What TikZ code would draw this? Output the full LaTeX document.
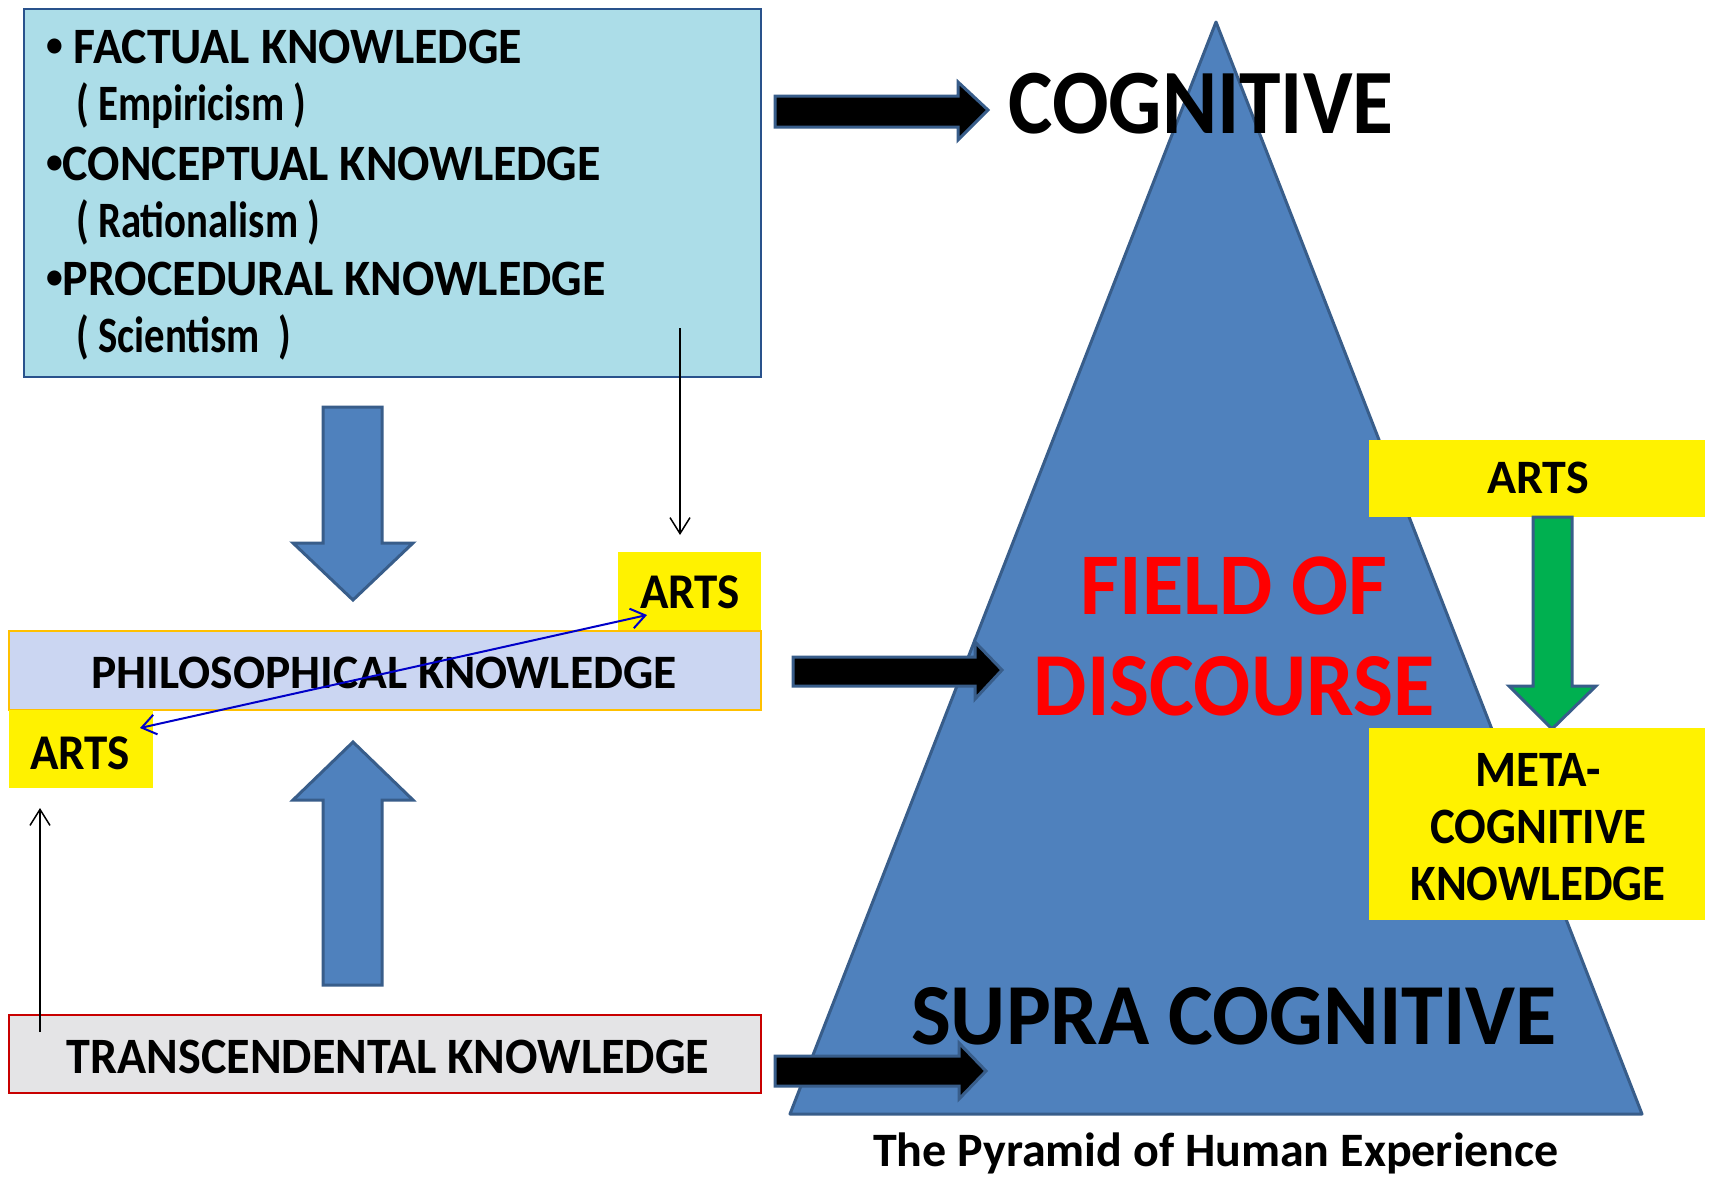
\documentclass[tikz,border=0pt]{standalone}
\usepackage{fontspec}
\usepackage{graphicx}
\setmainfont{Carlito}
\usetikzlibrary{arrows.meta}
\definecolor{blueF}{RGB}{79,129,189}
\definecolor{blueB}{RGB}{56,93,138}
\definecolor{cyanF}{RGB}{172,221,232}
\definecolor{cyanB}{RGB}{41,82,140}
\definecolor{philF}{RGB}{203,214,242}
\definecolor{philB}{RGB}{255,192,0}
\definecolor{transF}{RGB}{228,228,230}
\definecolor{transB}{RGB}{200,0,0}
\definecolor{greenF}{RGB}{0,176,80}
\definecolor{redT}{RGB}{255,0,0}
\definecolor{darrow}{RGB}{0,0,200}
\newcommand\sx[3]{\scalebox{#1}[1]{\fontsize{#2}{#2}\selectfont\bfseries #3}}
\newcommand\bul{\raisebox{0.12em}{\scalebox{0.7}{•}}}
\begin{document}
\begin{tikzpicture}[x=1pt,y=-1pt,
  rbox/.style={inner sep=0pt, outer sep=0pt, anchor=north west, line width=2pt},
  yel/.style={inner sep=0pt, outer sep=0pt, anchor=north west, fill=yellow, draw=none},
  bigarrow/.style={fill=blueF, draw=blueB, line width=3pt},
  grarrow/.style={fill=greenF, draw=blueB, line width=3pt},
  blkarrow/.style={fill=black, draw=blueB, line width=3pt},
  thinarrow/.style={draw=black, line width=1.5pt, -{Straight Barb[length=16pt,width=20pt]}},
  dblarrow/.style={draw=darrow, line width=2pt, {Straight Barb[length=14pt,width=20pt]}-{Straight Barb[length=14pt,width=20pt]}},
  txt/.style={inner sep=0pt, anchor=base},
  ltxt/.style={inner sep=0pt, anchor=base west}]

\useasboundingbox (0,0) rectangle (1712,1176);
\fill[white] (0,0) rectangle (1712,1176);

% ---------- left column boxes ----------
\node[rbox, draw=cyanB, fill=cyanF, minimum width=737pt, minimum height=368pt] (top) at (24,9) {};
\node[ltxt] (l1) at (46,63) {\sx{0.94}{51}{\bul{} FACTUAL KNOWLEDGE}};
\node[ltxt] (l2) at (76,120) {\sx{0.80}{51}{( Empiricism )}};
\node[ltxt] (l3) at (46,180) {\sx{0.94}{51}{\bul CONCEPTUAL KNOWLEDGE}};
\node[ltxt] (l4) at (76,237) {\sx{0.80}{51}{( Rationalism )}};
\node[ltxt] (l5) at (46,295) {\sx{0.94}{51}{\bul PROCEDURAL KNOWLEDGE}};
\node[ltxt] (l6) at (76,352) {\sx{0.80}{51}{( Scientism~~)}};

\node[yel, minimum width=143pt, minimum height=79pt] (artsR) at (618,552) {};
\node[txt] (artsRt) at (690,608) {\sx{0.94}{50}{ARTS}};

\node[rbox, draw=philB, fill=philF, minimum width=752pt, minimum height=79pt] (phil) at (9,631) {};
\node[txt] (philt) at (384,688) {\sx{0.99}{48}{PHILOSOPHICAL KNOWLEDGE}};

\node[yel, minimum width=144pt, minimum height=78pt] (artsL) at (9,710) {};
\node[txt] (artsLt) at (80,769) {\sx{0.94}{50}{ARTS}};

\node[rbox, draw=transB, fill=transF, minimum width=752pt, minimum height=78pt] (trans) at (9,1015) {};
\node[txt] (transt) at (388,1073) {\sx{0.943}{51}{TRANSCENDENTAL KNOWLEDGE}};

% big blue arrows
\draw[bigarrow] (323,407) -- (382,407) -- (382,543) -- (413,543) -- (353,600) -- (293,543) -- (323,543) -- cycle;
\draw[bigarrow] (353,742) -- (413,800) -- (382,800) -- (382,985) -- (323,985) -- (323,800) -- (293,800) -- cycle;

% thin arrows
\coordinate (a1s) at (680,328);
\coordinate (a1e) at (680,535);
\draw[thinarrow] (a1s) -- (a1e);
\coordinate (a2s) at (40,1032);
\coordinate (a2e) at (40,808);
\draw[thinarrow] (a2s) -- (a2e);
\coordinate (b1) at (140,728);
\coordinate (b2) at (647,615);
\draw[dblarrow] (b1) -- (b2);

% ---------- pyramid ----------
\draw[fill=blueF, draw=blueB, line width=3pt, line join=round] (1216,22) -- (1642,1114) -- (790,1114) -- cycle;

% black arrows
\draw[blkarrow] (775,96) -- (958,96) -- (958,82) -- (988,110) -- (958,140) -- (958,127) -- (775,127) -- cycle;
\draw[blkarrow] (793,657) -- (975,657) -- (975,642) -- (1002,670) -- (975,699) -- (975,686) -- (793,686) -- cycle;
\draw[blkarrow] (775,1056) -- (959,1056) -- (959,1043) -- (986,1071) -- (959,1099) -- (959,1086) -- (775,1086) -- cycle;

\node[txt] (cog) at (1201,133) {\sx{0.91}{92}{COGNITIVE}};
\node[txt, text=redT] (field) at (1234,614) {\sx{0.96}{88}{FIELD OF}};
\node[txt, text=redT] (disc) at (1234,715) {\sx{0.94}{90}{DISCOURSE}};
\node[txt] (supra) at (1234,1044) {\sx{0.97}{87}{SUPRA COGNITIVE}};

% right column
\node[yel, minimum width=336pt, minimum height=77pt] (arts3) at (1369,440) {};
\node[txt] (arts3t) at (1538,493) {\sx{1.0}{48}{ARTS}};
\draw[grarrow] (1533,517) -- (1572,517) -- (1572,686) -- (1596,686) -- (1552,729) -- (1509,686) -- (1533,686) -- cycle;
\node[yel, minimum width=336pt, minimum height=192pt] (meta) at (1369,728) {};
\node[txt] (metat) at (1538,786) {\scalebox{0.92}[1]{\fontsize{51}{57}\selectfont\bfseries
  \begin{tabular}[t]{@{}c@{}}META-\\COGNITIVE\\KNOWLEDGE\end{tabular}}};

\node[txt] (cap) at (1216,1166) {\sx{1.0}{48}{The Pyramid of Human Experience}};
\end{tikzpicture}
\end{document}
